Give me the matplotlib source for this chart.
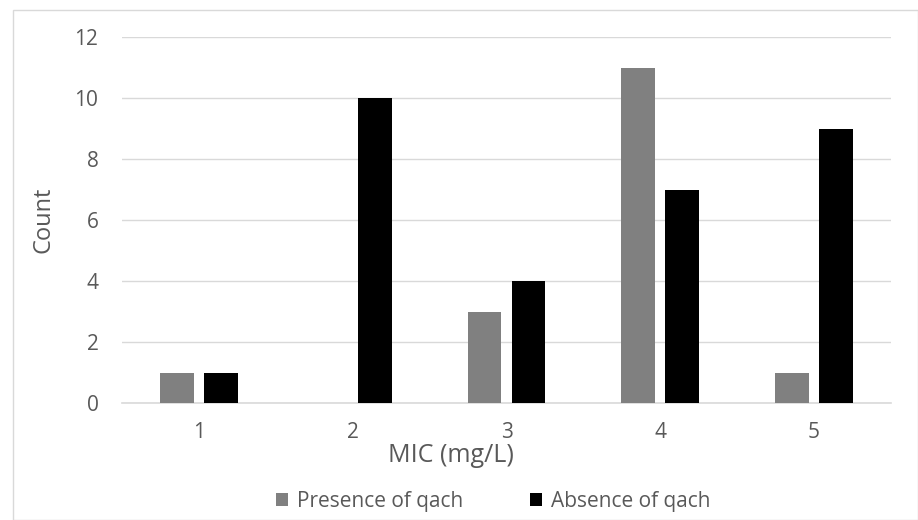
import matplotlib.pyplot as plt
import numpy as np

mic = ['1', '2', '3', '4', '5']
presence = [1, 0, 3, 11, 1]
absence = [1, 10, 4, 7, 9]

plt.rcParams['font.family'] = ['Open Sans', 'DejaVu Sans']
text_color = '#595959'

fig = plt.figure(figsize=(9.18, 5.2), dpi=100)
ax = fig.add_axes([122 / 918, 1 - 403 / 520, (891 - 122) / 918, (403 - 37) / 520])

x = np.arange(len(mic))
w = 0.22
ax.bar(x - 0.143, presence, w, color='#808080', label='Presence of qach', zorder=3)
ax.bar(x + 0.143, absence, w, color='#000000', label='Absence of qach', zorder=3)

ax.set_xlim(-0.5, len(mic) - 0.5)
ax.set_ylim(0, 12)
ax.set_yticks(range(0, 13, 2))
ax.set_xticks(x)
ax.set_xticklabels(mic)
ax.grid(axis='y', color='#d9d9d9', linewidth=1, zorder=0)
for s in ['top', 'right', 'left']:
    ax.spines[s].set_visible(False)
ax.spines['bottom'].set_color('#d9d9d9')
ax.spines['bottom'].set_linewidth(1.2)
ax.tick_params(length=0, labelsize=15, labelcolor=text_color)
ax.tick_params(axis='x', pad=14)
ax.tick_params(axis='y', pad=17)

ax.set_ylabel('Count', fontsize=17, color=text_color, labelpad=14)
fig.text(451 / 918, 1 - 455 / 520, 'MIC (mg/L)', fontsize=18, color=text_color,
         ha='center', va='center')

fig.legend(loc='center', bbox_to_anchor=(493 / 918, 1 - 501 / 520), ncol=2,
           frameon=False, fontsize=15, labelcolor=text_color, handlelength=0.6,
           handleheight=0.6, columnspacing=3.2, handletextpad=0.4)

border = plt.Rectangle((13 / 918, 0), 1 - 13 / 918, 1 - 10 / 520, transform=fig.transFigure,
                       fill=False, edgecolor='#d9d9d9', linewidth=1)
fig.patches.append(border)

fig.savefig('out.png', dpi=100)
